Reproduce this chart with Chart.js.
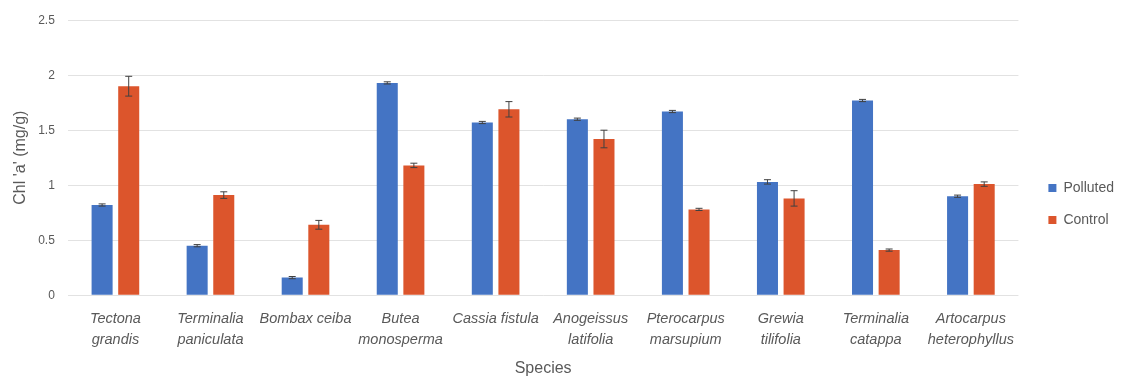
<!DOCTYPE html>
<html>
<head>
<meta charset="utf-8">
<title>Chl 'a' by species</title>
<script src="https://cdn.jsdelivr.net/npm/chart.js@4.4.0/dist/chart.umd.min.js"></script>
<style>
  html, body { margin: 0; padding: 0; background: #fff; }
  #wrap { position: relative; width: 1125px; height: 379px; }
</style>
</head>
<body>
<div id="wrap"><canvas id="chl-chart"></canvas></div>
<script>
'use strict';

// species on the x axis (two-line labels where the name wraps)
var species = [
  ['Tectona', 'grandis'],
  ['Terminalia', 'paniculata'],
  'Bombax ceiba',
  ['Butea', 'monosperma'],
  'Cassia fistula',
  ['Anogeissus', 'latifolia'],
  ['Pterocarpus', 'marsupium'],
  ['Grewia', 'tilifolia'],
  ['Terminalia', 'catappa'],
  ['Artocarpus', 'heterophyllus']
];

var polluted    = [0.82, 0.45, 0.16, 1.93, 1.57, 1.60, 1.67, 1.03, 1.77, 0.90];
var pollutedErr = [0.01, 0.01, 0.01, 0.01, 0.01, 0.01, 0.01, 0.02, 0.01, 0.01];
var control     = [1.90, 0.91, 0.64, 1.18, 1.69, 1.42, 0.78, 0.88, 0.41, 1.01];
var controlErr  = [0.09, 0.03, 0.04, 0.02, 0.07, 0.08, 0.01, 0.07, 0.01, 0.02];

var yTicks = [0, 0.5, 1, 1.5, 2, 2.5];

var textGrey = '#595959';
var fontFamily = "'Liberation Sans', Arial, sans-serif";

// draws +/- error whiskers on top of each bar
var errorBars = {
  id: 'errorBars',
  afterDatasetsDraw: function(chart) {
    var ctx = chart.ctx;
    var yScale = chart.scales.y;
    chart.data.datasets.forEach(function(ds, i) {
      var meta = chart.getDatasetMeta(i);
      if (meta.hidden || !ds.errors) return;
      meta.data.forEach(function(bar, j) {
        var v = ds.data[j];
        var e = ds.errors[j];
        var yHi = yScale.getPixelForValue(v + e);
        var yLo = yScale.getPixelForValue(v - e);
        var x = bar.x;
        ctx.save();
        ctx.strokeStyle = '#404040';
        ctx.lineWidth = 1;
        ctx.beginPath();
        ctx.moveTo(x, yHi);
        ctx.lineTo(x, yLo);
        ctx.moveTo(x - 3.5, yHi);
        ctx.lineTo(x + 3.5, yHi);
        ctx.moveTo(x - 3.5, yLo);
        ctx.lineTo(x + 3.5, yLo);
        ctx.stroke();
        ctx.restore();
      });
    });
  }
};

// nudge the legend away from the plot area and a bit lower
var legendGap = {
  id: 'legendGap',
  afterLayout: function(chart) {
    var dx = 12, dy = 10;
    chart.legend.left += dx;
    chart.legend.right += dx;
    chart.legend.top += dy;
    chart.legend.bottom += dy;
  }
};

var ctx = document.getElementById('chl-chart').getContext('2d');
var chart = new Chart(ctx, {
  type: 'bar',
  data: {
    labels: species,
    datasets: [{
      label: 'Polluted',
      data: polluted,
      errors: pollutedErr,
      backgroundColor: '#4474c4',
      categoryPercentage: 0.56,
      barPercentage: 0.79
    }, {
      label: 'Control',
      data: control,
      errors: controlErr,
      backgroundColor: '#dc552c',
      categoryPercentage: 0.56,
      barPercentage: 0.79
    }]
  },
  options: {
    responsive: true,
    maintainAspectRatio: false,
    animation: false,
    layout: { padding: { top: 10, right: 13, left: 11, bottom: 1 } },
    plugins: {
      tooltip: { enabled: false },
      legend: {
        position: 'right',
        align: 'center',
        labels: {
          boxWidth: 8,
          boxHeight: 8,
          padding: 18,
          color: textGrey,
          font: { family: fontFamily, size: 14 }
        }
      }
    },
    scales: {
      x: {
        grid: { display: false },
        border: { display: false },
        ticks: {
          maxRotation: 0,
          autoSkip: false,
          color: textGrey,
          padding: 6,
          font: { family: fontFamily, size: 14.5, style: 'italic', lineHeight: 1.4 }
        },
        title: {
          display: true,
          text: 'Species',
          color: textGrey,
          padding: { top: 3, bottom: 0 },
          font: { family: fontFamily, size: 16 }
        }
      },
      y: {
        min: 0,
        max: 2.5,
        afterBuildTicks: function(scale) {
          scale.ticks = yTicks.map(function(v) { return { value: v }; });
        },
        grid: { color: '#e2e2e2', drawTicks: false },
        border: { display: false },
        ticks: {
          color: textGrey,
          padding: 13,
          font: { family: fontFamily, size: 12 },
          callback: function(value) { return String(value); }
        },
        title: {
          display: true,
          text: "Chl 'a' (mg/g)",
          color: textGrey,
          padding: { top: 0, bottom: -5 },
          font: { family: fontFamily, size: 16 }
        }
      }
    }
  },
  plugins: [errorBars, legendGap]
});
</script>
</body>
</html>
